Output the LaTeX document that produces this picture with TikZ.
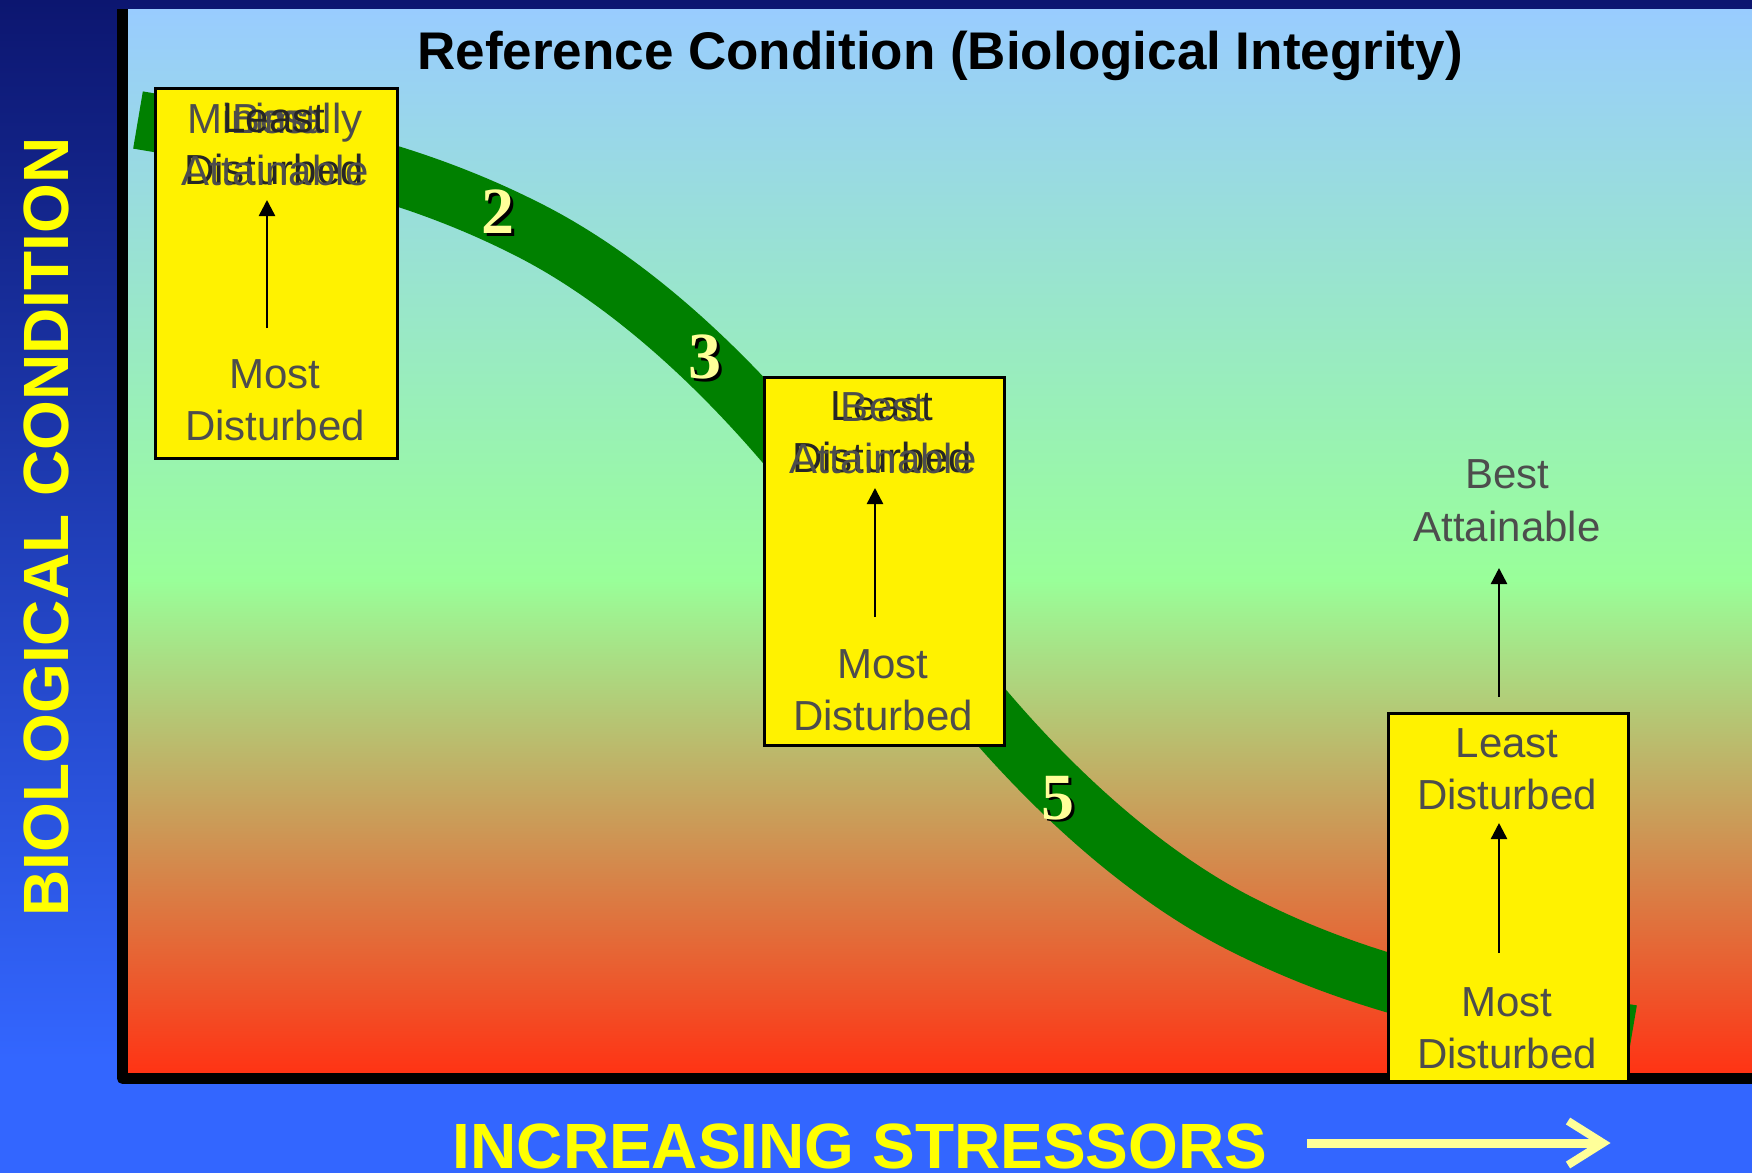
\documentclass[tikz,border=0pt]{standalone}
\usepackage{fontspec}
\setmainfont{Liberation Sans}
\newfontfamily\numfont{Liberation Serif}
\usetikzlibrary{arrows.meta}
\definecolor{navy}{HTML}{0C1670}
\definecolor{bgblue}{HTML}{3366FF}
\definecolor{skyb}{HTML}{99CCFF}
\definecolor{lgreen}{HTML}{99FF99}
\definecolor{redd}{HTML}{FF3314}
\definecolor{bandgreen}{HTML}{008000}
\definecolor{txtgray}{HTML}{4D4D4D}
\definecolor{txtdark}{HTML}{262626}
\definecolor{numyel}{HTML}{FFFF99}
\definecolor{lblyel}{HTML}{FFFF00}
\begin{document}
\begin{tikzpicture}[x=1pt,y=-1pt,
  lbl/.style={font=\fontsize{42}{50}\selectfont, text=txtgray, anchor=base, inner sep=0pt},
  lbldark/.style={lbl, text=txtdark},
  ybox/.style={draw=black, line width=3pt, fill=yellow, inner sep=0pt, anchor=north west, minimum width=240pt, minimum height=368pt},
  arr/.style={line width=2.5pt, -{Triangle[width=16pt,length=16pt]}},
  num/.style={font=\numfont\bfseries\fontsize{66}{66}\selectfont, text=numyel, inner sep=0pt},
  numsh/.style={num, text=black},
  axlbl/.style={font=\bfseries\fontsize{64}{64}\selectfont, text=lblyel, anchor=base, inner sep=0pt},
]
\useasboundingbox (0,0) rectangle (1752,1173);
% slide background
\shade[top color=navy, bottom color=bgblue] (0,0) rectangle (1752,1060);
\fill[bgblue] (0,1059) rectangle (1752,1173);
% plot area
\shade[top color=skyb, bottom color=lgreen] (128,9) rectangle (1752,581);
\shade[top color=lgreen, bottom color=redd] (128,580) rectangle (1752,1073);
% axes
\draw[line width=11pt, line join=round] (122.5,9) -- (122.5,1078.5) -- (1752,1078.5);
% green band
\coordinate (c0) at (138,120);
\coordinate (c1) at (523,227);
\coordinate (c2) at (885,577);
\coordinate (c3) at (1247,927);
\coordinate (c4) at (1632,1034);
\draw[bandgreen, line width=58pt] (c0) .. controls (268,142) and (393,162) .. (c1)
  .. controls (645,287) and (775,412) .. (c2)
  .. controls (995,742) and (1125,867) .. (c3)
  .. controls (1377,992) and (1502,1012) .. (c4);
% numbers
\node[numsh] (n2s) at (500.5,214.5) {2};
\node[num] (n2) at (498,212) {2};
\node[numsh] (n3s) at (707.5,359.5) {3};
\node[num] (n3) at (705,357) {3};
\node[numsh] (n5s) at (1060.5,800.5) {5};
\node[num] (n5) at (1058,798) {5};
% boxes
\node[ybox, minimum width=242pt, minimum height=370pt] (box1) at (154,87) {};
\node[ybox] (box2) at (763,376) {};
\node[ybox] (box3) at (1387,712) {};
% box 1 texts
\node[lbl] (b1l1a) at (275,133) {Minimally};
\node[lbl] (b1l1b) at (275,133) {Best};
\node[lbldark] (b1l1c) at (274,132) {Least};
\node[lbldark] (b1l2a) at (274,184) {Disturbed};
\node[lbl] (b1l2b) at (275,185) {Attainable};
\node[lbl] (b1m) at (275,388) {Most};
\node[lbl] (b1d) at (275,440) {Disturbed};
\coordinate (b1a0) at (267,328);
\coordinate (b1a1) at (267,200);
\draw[arr] (b1a0) -- (b1a1);
% box 2 texts
\node[lbldark] (b2l1a) at (882,420) {Least};
\node[lbl] (b2l1b) at (883,421) {Best};
\node[lbldark] (b2l2a) at (882,472) {Disturbed};
\node[lbl] (b2l2b) at (883,473) {Attainable};
\node[lbl] (b2m) at (883,678) {Most};
\node[lbl] (b2d) at (883,730) {Disturbed};
\coordinate (b2a0) at (875,617);
\coordinate (b2a1) at (875,488);
\draw[arr] (b2a0) -- (b2a1);
% box 3 texts
\node[lbl] (b3l1) at (1507,757) {Least};
\node[lbl] (b3l2) at (1507,809) {Disturbed};
\node[lbl] (b3m) at (1507,1016) {Most};
\node[lbl] (b3d) at (1507,1068) {Disturbed};
\coordinate (b3a0) at (1499,953);
\coordinate (b3a1) at (1499,823);
\draw[arr] (b3a0) -- (b3a1);
% best attainable above box 3
\node[lbl] (ba1) at (1507,488) {Best};
\node[lbl] (ba2) at (1507,541) {Attainable};
\coordinate (ba0) at (1499,697);
\coordinate (baT) at (1499,568);
\draw[arr] (ba0) -- (baT);
% title
\node[font=\bfseries\fontsize{53}{53}\selectfont, anchor=base, inner sep=0pt] (title) at (940,69) {Reference Condition (Biological Integrity)};
% axis labels
\node[axlbl, rotate=90] (ylab) at (68,527) {BIOLOGICAL CONDITION};
\node[axlbl] (xlab) at (860,1168) {INCREASING STRESSORS};
\coordinate (xa0) at (1307,1143);
\coordinate (xa1) at (1598,1143);
\draw[numyel, line width=9pt] (xa0) -- (xa1);
\coordinate (xh1) at (1568,1121);
\coordinate (xh2) at (1603,1143);
\coordinate (xh3) at (1568,1165);
\draw[numyel, line width=8pt, line join=miter] (xh1) -- (xh2) -- (xh3);
\end{tikzpicture}
\end{document}
